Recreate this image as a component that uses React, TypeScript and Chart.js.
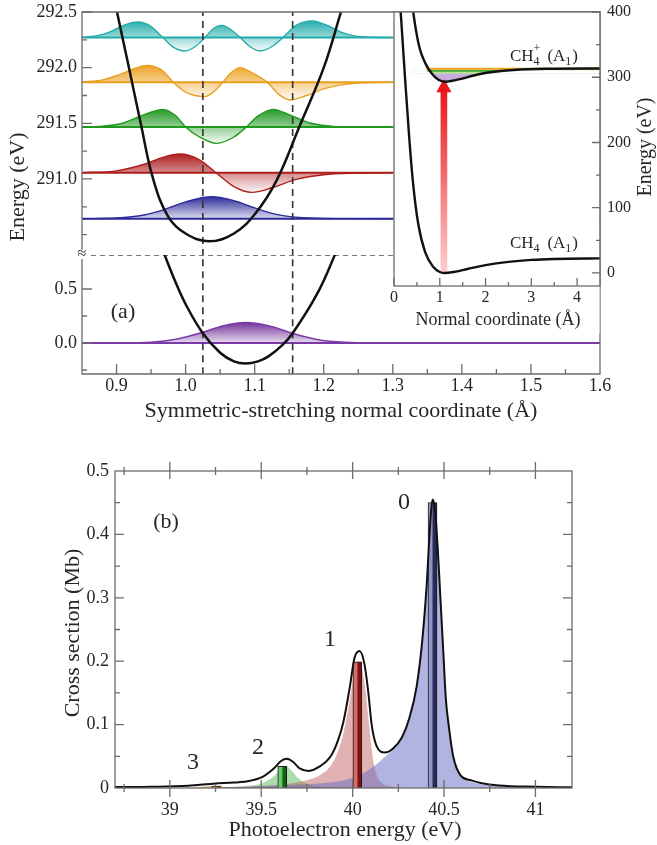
import React, { useEffect, useRef } from 'react';
import { Chart, registerables } from 'chart.js';

Chart.register(...registerables);

const FONT = '"Liberation Serif", "Times New Roman", serif';
const AXIS = '#6c6c6c';
const INK = '#262626';

// ================= Panel (a) : main plot =================
const upperParabolaX = [0.893, 0.9007, 0.918, 0.935, 0.953, 0.975, 1.0, 1.0345, 1.07, 1.101, 1.132, 1.166, 1.2, 1.225, 1.234];
const upperParabolaY = [292.75, 292.5, 292.0, 291.5, 291.0, 290.66, 290.51, 290.44, 290.51, 290.69, 290.99, 291.49, 292.0, 292.5, 292.68];
const lowerParabolaX = [0.96, 0.97, 0.985, 1.0, 1.025, 1.05, 1.07, 1.087, 1.105, 1.12, 1.14, 1.155, 1.19, 1.215, 1.23];
const lowerParabolaY = [0.98, 0.81, 0.57, 0.36, 0.09, -0.09, -0.17, -0.19, -0.17, -0.124, -0.02, 0.09, 0.45, 0.8, 1.05];

const v0X = [0.85, 0.9, 0.94, 0.97, 1.0, 1.038, 1.07, 1.1, 1.13, 1.17, 1.22, 1.3];
const v0Psi = [0.0003, 0.006, 0.033, 0.084, 0.151, 0.197, 0.163, 0.097, 0.041, 0.008, 0.0005, 0];
const v0Base = 290.643;

const v1X = [0.85, 0.9, 0.94, 0.965, 0.992, 1.02, 1.044, 1.07, 1.096, 1.125, 1.16, 1.2, 1.25, 1.3];
const v1Psi = [0.001, 0.017, 0.076, 0.134, 0.168, 0.116, 0, -0.124, -0.176, -0.135, -0.06, -0.018, -0.004, 0];
const v1Base = 291.056;

const v2X = [0.85, 0.88, 0.91, 0.94, 0.967, 0.985, 1.0, 1.02, 1.045, 1.07, 1.088, 1.105, 1.127, 1.15, 1.18, 1.21, 1.24, 1.3];
const v2Psi = [0.001, 0.007, 0.036, 0.11, 0.158, 0.105, 0, -0.09, -0.147, -0.09, 0, 0.1, 0.158, 0.11, 0.036, 0.008, 0.002, 0];
const v2Base = 291.467;

const v3X = [0.85, 0.88, 0.905, 0.925, 0.944, 0.965, 0.982, 1.0, 1.028, 1.042, 1.054, 1.065, 1.079, 1.097, 1.118, 1.135, 1.151, 1.175, 1.2, 1.23, 1.26, 1.3];
const v3Psi = [0.002, 0.02, 0.07, 0.12, 0.15, 0.11, 0, -0.09, -0.13, -0.08, 0, 0.08, 0.13, 0.08, 0, -0.11, -0.16, -0.12, -0.06, -0.02, -0.005, 0];
const v3Base = 291.87;

const v4X = [0.85, 0.87, 0.89, 0.91, 0.931, 0.95, 0.967, 0.982, 0.999, 1.014, 1.028, 1.04, 1.052, 1.065, 1.079, 1.093, 1.108, 1.125, 1.141, 1.16, 1.183, 1.205, 1.225, 1.245, 1.27, 1.3];
const v4Psi = [0.002, 0.015, 0.05, 0.11, 0.14, 0.1, 0, -0.085, -0.12, -0.08, 0, 0.08, 0.11, 0.075, 0, -0.08, -0.12, -0.08, 0, 0.11, 0.15, 0.11, 0.05, 0.015, 0.003, 0];
const v4Base = 292.27;

const g0X = [0.85, 0.9, 0.95, 0.99, 1.025, 1.055, 1.087, 1.12, 1.155, 1.19, 1.23, 1.28, 1.35];
const g0Psi = [0, 0.0006, 0.0085, 0.04, 0.1, 0.16, 0.19, 0.16, 0.089, 0.033, 0.0065, 0.0004, 0];
const g0Base = 0;

const dashX = [1.025, 1.155];
const breakValue = 0.81;

const aXTicks = [0.9, 1.0, 1.1, 1.2, 1.3, 1.4, 1.5, 1.6];
const aXLabels = ['0.9', '1.0', '1.1', '1.2', '1.3', '1.4', '1.5', '1.6'];
const aXMinor = [0.95, 1.05, 1.15, 1.25, 1.35, 1.45, 1.55];
const aUpperTicks = [291.0, 291.5, 292.0, 292.5];
const aUpperLabels = ['291.0', '291.5', '292.0', '292.5'];
const aUpperMinor = [290.5, 290.75, 291.25, 291.75, 292.25];
const aLowerTicks = [0.0, 0.5];
const aLowerLabels = ['0.0', '0.5'];
const aLowerMinor = [-0.25, 0.25];

// ================= Panel (a) : inset =================
const ch4X = [0.125, 0.146, 0.24, 0.335, 0.42, 0.53, 0.68, 0.86, 1.0, 1.1, 1.3, 1.6, 2.0, 2.5, 3.0, 3.5, 4.6];
const ch4Y = [425, 400, 300, 205, 135, 75, 32, 9, 1.5, 0, 1.5, 6, 12, 17, 20, 21.5, 22.5];
const ch4pX = [0.37, 0.42, 0.49, 0.57, 0.68, 0.82, 0.97, 1.1, 1.37, 1.88, 2.61, 3.33, 4.6];
const ch4pY = [428, 400, 368, 342, 322, 306, 296, 293, 296, 305, 311, 313, 313.5];
const levelOrangeX = [0.71, 4.6];
const levelOrangeY = [313, 313];
const levelGreenX = [0.73, 2.4];
const levelGreenY = [309.8, 309.8];
const arrowX = 1.09;
const arrowBodyTop = 279;
const arrowHeadY = 283.7;

const insetXTicks = [0, 1, 2, 3, 4];
const insetXLabels = ['0', '1', '2', '3', '4'];
const insetXMinor = [0.5, 1.5, 2.5, 3.5];
const insetYTicks = [0, 100, 200, 300, 400];
const insetYLabels = ['0', '100', '200', '300', '400'];
const insetYMinor = [50, 150, 250, 350];

// ================= Panel (b) =================
const totalX = [38.7, 38.9, 39.1, 39.25, 39.35, 39.44, 39.51, 39.57, 39.61, 39.64, 39.675, 39.71, 39.76, 39.82, 39.88, 39.92, 39.95, 39.985, 40.01, 40.038, 40.065, 40.086, 40.104, 40.13, 40.177, 40.22, 40.27, 40.31, 40.35, 40.38, 40.405, 40.425, 40.437, 40.45, 40.465, 40.48, 40.495, 40.51, 40.525, 40.55, 40.59, 40.65, 40.7, 40.8, 41.0, 41.2];
const totalY = [0.0015, 0.002, 0.0036, 0.0072, 0.0085, 0.0115, 0.018, 0.031, 0.043, 0.046, 0.041, 0.031, 0.027, 0.034, 0.05, 0.075, 0.105, 0.16, 0.205, 0.216, 0.195, 0.15, 0.1, 0.067, 0.056, 0.062, 0.08, 0.11, 0.16, 0.23, 0.32, 0.42, 0.455, 0.44, 0.38, 0.3, 0.22, 0.14, 0.1, 0.05, 0.02, 0.012, 0.008, 0.004, 0.002, 0.001];

const peak0X = [39.3, 39.6, 39.8, 39.95, 40.05, 40.12, 40.18, 40.22, 40.27, 40.31, 40.35, 40.38, 40.405, 40.425, 40.437, 40.45, 40.465, 40.48, 40.495, 40.51, 40.525, 40.55, 40.59, 40.65, 40.7, 40.8, 41.0, 41.2];
const peak0Y = [0.001, 0.004, 0.007, 0.012, 0.022, 0.035, 0.05, 0.06, 0.078, 0.108, 0.158, 0.228, 0.318, 0.418, 0.452, 0.438, 0.378, 0.298, 0.218, 0.138, 0.098, 0.048, 0.019, 0.01, 0.006, 0.003, 0.001, 0];
const peak1X = [39.3, 39.5, 39.6, 39.7, 39.76, 39.82, 39.88, 39.92, 39.95, 39.985, 40.01, 40.03, 40.05, 40.07, 40.086, 40.104, 40.12, 40.14, 40.17, 40.22, 40.3];
const peak1Y = [0.001, 0.003, 0.005, 0.009, 0.013, 0.02, 0.035, 0.058, 0.087, 0.14, 0.185, 0.2, 0.19, 0.155, 0.11, 0.062, 0.032, 0.015, 0.006, 0.002, 0];
const peak2X = [39.3, 39.45, 39.52, 39.57, 39.6, 39.625, 39.645, 39.67, 39.7, 39.74, 39.8, 39.9, 40.0];
const peak2Y = [0.001, 0.004, 0.009, 0.019, 0.028, 0.034, 0.033, 0.026, 0.016, 0.008, 0.003, 0.001, 0];
const peak3X = [39.05, 39.15, 39.22, 39.3, 39.4, 39.5];
const peak3Y = [0, 0.001, 0.003, 0.002, 0.001, 0];

const stickX = [40.437, 40.026, 39.615, 39.255];
const stickY = [0.45, 0.199, 0.034, 0.003];
const stickLight = ['#9094c6', '#d46c6c', '#70c870', '#e2b474'];
const stickDark = ['#2a2a5a', '#7a1212', '#136213', '#8a5a20'];

const bXTicks = [39, 39.5, 40, 40.5, 41];
const bXLabels = ['39', '39.5', '40', '40.5', '41'];
const bXMinor = [38.75, 39.25, 39.75, 40.25, 40.75];
const bYTicks = [0, 0.1, 0.2, 0.3, 0.4, 0.5];
const bYLabels = ['0', '0.1', '0.2', '0.3', '0.4', '0.5'];
const bYMinor = [0.05, 0.15, 0.25, 0.35, 0.45];

// ================= helpers =================
const xy = (xs: number[], ys: number[], dy = 0) => xs.map((x, i) => ({ x, y: ys[i] + dy }));

function ticks(ctx: any, scale: any, axis: 'x' | 'y', values: number[], at: number, a: number, b: number) {
  ctx.beginPath();
  values.forEach((v) => {
    const p = scale.getPixelForValue(v);
    if (axis === 'x') { ctx.moveTo(p, at - a); ctx.lineTo(p, at + b); }
    else { ctx.moveTo(at - a, p); ctx.lineTo(at + b, p); }
  });
  ctx.stroke();
}

function tickText(ctx: any, scale: any, axis: 'x' | 'y', values: number[], labels: string[], at: number, align: string, size: number) {
  ctx.font = `${size}px ${FONT}`;
  ctx.fillStyle = INK;
  ctx.textAlign = align;
  ctx.textBaseline = 'middle';
  values.forEach((v, i) => {
    const p = scale.getPixelForValue(v);
    if (axis === 'x') ctx.fillText(labels[i], p, at);
    else ctx.fillText(labels[i], at, p);
  });
}

function text(ctx: any, s: string, x: number, y: number, size: number, rot = 0, align = 'center') {
  ctx.save();
  ctx.font = `${size}px ${FONT}`;
  ctx.fillStyle = INK;
  ctx.textAlign = align;
  ctx.textBaseline = 'middle';
  ctx.translate(x, y);
  if (rot) ctx.rotate(rot);
  ctx.fillText(s, 0, 0);
  ctx.restore();
}

function chem(ctx: any, x: number, baseline: number, plus: boolean) {
  ctx.save();
  ctx.fillStyle = INK;
  ctx.textAlign = 'left';
  ctx.textBaseline = 'alphabetic';
  let cx = x;
  ctx.font = `17px ${FONT}`;
  ctx.fillText('CH', cx, baseline);
  cx += ctx.measureText('CH').width;
  ctx.font = `12px ${FONT}`;
  ctx.fillText('4', cx, baseline + 4);
  if (plus) ctx.fillText('+', cx, baseline - 9);
  cx += ctx.measureText('+').width + 7;
  ctx.font = `17px ${FONT}`;
  ctx.fillText('(A', cx, baseline);
  cx += ctx.measureText('(A').width;
  ctx.font = `12px ${FONT}`;
  ctx.fillText('1', cx, baseline + 4);
  cx += ctx.measureText('1').width + 1;
  ctx.font = `17px ${FONT}`;
  ctx.fillText(')', cx, baseline);
  ctx.restore();
}

function vertGrad(chart: any, vTop: number, vBot: number, rgb: string, a0: number, a1: number) {
  const { ctx, chartArea, scales } = chart;
  if (!chartArea) return `rgba(${rgb},0.5)`;
  const y1 = scales.y.getPixelForValue(vTop);
  let y2 = scales.y.getPixelForValue(vBot);
  if (Math.abs(y2 - y1) < 1) y2 = y1 + 1;
  const g = ctx.createLinearGradient(0, y1, 0, y2);
  g.addColorStop(0, `rgba(${rgb},${a0})`);
  g.addColorStop(1, `rgba(${rgb},${a1})`);
  return g;
}

function waveSets(xs: number[], psi: number[], base: number, line: string, rgb: string) {
  const top = base + Math.max(...psi);
  const neg = Math.min(...psi);
  const bot = base + (neg < 0 ? neg : 0);
  return [
    {
      data: xy(xs, psi, base), borderColor: line, borderWidth: 1.4,
      fill: { value: base },
      backgroundColor: (c: any) => vertGrad(c.chart, top, bot, rgb, 0.95, neg < 0 ? 0.03 : 0.16),
      order: 6,
    },
    { data: [{ x: 0.85, y: base }, { x: 1.6, y: base }], borderColor: line, borderWidth: 2, tension: 0, cubicInterpolationMode: 'default', order: 5 },
  ];
}

function straight(data: any[], color: string, width: number, dash: number[] = [], order = 1) {
  return { data, borderColor: color, borderWidth: width, borderDash: dash, tension: 0, cubicInterpolationMode: 'default', order };
}

function options(pad: any, xr: number[], yr: number[]) {
  return {
    responsive: false, maintainAspectRatio: false, animation: false, events: [], devicePixelRatio: 1,
    layout: { padding: pad },
    plugins: { legend: { display: false }, tooltip: { enabled: false } },
    scales: {
      x: { type: 'linear', display: false, min: xr[0], max: xr[1], offset: false, grid: { offset: false } },
      y: { type: 'linear', display: false, min: yr[0], max: yr[1], offset: false },
    },
    elements: { point: { radius: 0, hoverRadius: 0 }, line: { cubicInterpolationMode: 'monotone', borderCapStyle: 'butt' } },
  };
}

// ================= chart configs =================
const A1_TOP = 0, A1_H = 255;
const A2_TOP = 245, A2_H = 185;
const B_TOP = 0, B_H = 345;
const C_TOP = 440, C_H = 405;

function makeA1() {
  const datasets: any[] = [
    { data: xy(upperParabolaX, upperParabolaY), borderColor: '#111', borderWidth: 2.5, order: 0, tension: 0.4, cubicInterpolationMode: 'default' },
    ...dashX.map((x) => straight([{ x, y: 290.2 }, { x, y: 292.6 }], '#333', 1.6, [7, 5], 1)),
    ...waveSets(v0X, v0Psi, v0Base, '#2b2b9c', '35,35,150'),
    ...waveSets(v1X, v1Psi, v1Base, '#b01c1c', '170,22,22'),
    ...waveSets(v2X, v2Psi, v2Base, '#1f9a1f', '28,150,28'),
    ...waveSets(v3X, v3Psi, v3Base, '#e9a020', '236,158,28'),
    ...waveSets(v4X, v4Psi, v4Base, '#22abab', '26,168,168'),
  ];
  return {
    type: 'line',
    data: { datasets },
    options: options({ left: 82, right: 57, top: 12, bottom: 0 }, [0.85, 1.6], [290.317, 292.5]),
    plugins: [{
      id: 'decorA1',
      afterDraw(chart: any) {
        const c = chart.ctx; const { left, right, top, bottom } = chart.chartArea;
        c.save();
        c.strokeStyle = AXIS; c.lineWidth = 1.3;
        c.beginPath(); c.moveTo(left, bottom); c.lineTo(left, top); c.lineTo(right, top); c.lineTo(right, bottom); c.stroke();
        ticks(c, chart.scales.y, 'y', aUpperTicks, left, 0, 10);
        ticks(c, chart.scales.y, 'y', aUpperMinor, left, 0, 5);
        tickText(c, chart.scales.y, 'y', aUpperTicks, aUpperLabels, 77, 'right', 18);
        text(c, 'Energy (eV)', 18, 187 - A1_TOP, 22, -Math.PI / 2);
        c.restore();
      },
    }],
  };
}

function makeA2() {
  const datasets: any[] = [
    { data: xy(lowerParabolaX, lowerParabolaY), borderColor: '#111', borderWidth: 2.5, order: 0, tension: 0.4, cubicInterpolationMode: 'default' },
    ...dashX.map((x) => straight([{ x, y: -0.4 }, { x, y: 0.9 }], '#333', 1.6, [7, 5], 1)),
    straight([{ x: 0.85, y: breakValue }, { x: 1.6, y: breakValue }], '#777', 1.1, [5, 4], 2),
    ...waveSets(g0X, g0Psi, g0Base, '#7b3aa8', '108,40,150'),
  ];
  return {
    type: 'line',
    data: { datasets },
    options: options({ left: 82, right: 57, top: 10, bottom: 56 }, [0.85, 1.6], [-0.287, 0.815]),
    plugins: [{
      id: 'decorA2',
      afterDraw(chart: any) {
        const c = chart.ctx; const { left, right, top, bottom } = chart.chartArea;
        c.save();
        c.strokeStyle = AXIS; c.lineWidth = 1.3;
        c.beginPath(); c.moveTo(left, top); c.lineTo(left, bottom); c.lineTo(right, bottom); c.lineTo(right, top); c.stroke();
        ticks(c, chart.scales.y, 'y', aLowerTicks, left, 0, 10);
        ticks(c, chart.scales.y, 'y', aLowerMinor, left, 0, 5);
        ticks(c, chart.scales.x, 'x', aXTicks.slice(0, -1), bottom, 10, 0);
        ticks(c, chart.scales.x, 'x', aXMinor, bottom, 5, 0);
        tickText(c, chart.scales.y, 'y', aLowerTicks, aLowerLabels, 77, 'right', 18);
        tickText(c, chart.scales.x, 'x', aXTicks, aXLabels, 386 - A2_TOP, 'center', 18);
        text(c, 'Symmetric-stretching normal coordinate (Å)', 341, 411 - A2_TOP, 22);
        text(c, '(a)', 123, 312 - A2_TOP, 22);
        c.fillStyle = '#fff';
        c.fillRect(left - 5, top - 5, 10, 9);
        text(c, '≈', left, top - 1, 16);
        c.restore();
      },
    }],
  };
}

function makeB() {
  const fillCopy = (level: number, color: string, order: number) => ({
    data: xy(ch4pX, ch4pY), borderColor: 'rgba(0,0,0,0)', borderWidth: 0,
    fill: { target: { value: level }, above: 'rgba(0,0,0,0)', below: color }, order,
  });
  const datasets: any[] = [
    { data: xy(ch4X, ch4Y), borderColor: '#111', borderWidth: 2.4, order: 0 },
    { data: xy(ch4pX, ch4pY), borderColor: '#111', borderWidth: 2.4, order: 0 },
    {
      data: [{ x: arrowX, y: arrowHeadY }], showLine: false, pointStyle: 'triangle', pointRadius: 8,
      pointBackgroundColor: '#e8161b', pointBorderColor: '#e8161b', pointBorderWidth: 1, order: 1,
    },
    {
      type: 'bar', data: [{ x: arrowX, y: [0, arrowBodyTop] }], barThickness: 6, borderWidth: 0, order: 2,
      backgroundColor: (c: any) => {
        const ch = c.chart; if (!ch.chartArea) return '#e33';
        const y0 = ch.scales.y.getPixelForValue(0), y1 = ch.scales.y.getPixelForValue(arrowBodyTop);
        const g = ch.ctx.createLinearGradient(0, y0, 0, y1);
        g.addColorStop(0, 'rgba(255,205,205,1)');
        g.addColorStop(1, 'rgba(234,24,30,1)');
        return g;
      },
    },
    straight(xy(levelOrangeX, levelOrangeY), '#f0a21e', 2, [], 3),
    straight(xy(levelGreenX, levelGreenY), '#3aa83a', 1.6, [], 3),
    fillCopy(305.2, 'rgba(202,168,228,0.95)', 4),
    fillCopy(309.8, 'rgba(178,222,150,0.9)', 5),
    fillCopy(313, 'rgba(228,236,150,0.9)', 6),
  ];
  return {
    type: 'line',
    data: { datasets },
    options: options({ left: 394, right: 57, top: 12, bottom: 59 }, [0, 4.5], [-20, 400]),
    plugins: [{
      id: 'decorB',
      beforeDraw(chart: any) {
        const c = chart.ctx;
        c.save(); c.fillStyle = '#fff'; c.fillRect(393.5, 12, 206, 322); c.restore();
      },
      afterDraw(chart: any) {
        const c = chart.ctx; const { left, right, top, bottom } = chart.chartArea;
        c.save();
        c.strokeStyle = AXIS; c.lineWidth = 1.3;
        c.strokeRect(left, top, right - left, bottom - top);
        ticks(c, chart.scales.y, 'y', insetYTicks, right, 8, 0);
        ticks(c, chart.scales.y, 'y', insetYMinor, right, 4, 0);
        ticks(c, chart.scales.x, 'x', insetXTicks, bottom, 8, 0);
        ticks(c, chart.scales.x, 'x', insetXMinor, bottom, 4, 0);
        tickText(c, chart.scales.y, 'y', insetYTicks, insetYLabels, 607, 'left', 16);
        tickText(c, chart.scales.x, 'x', insetXTicks, insetXLabels, 298 - B_TOP, 'center', 16);
        text(c, 'Normal coordinate (Å)', 498, 320 - B_TOP, 18);
        text(c, 'Energy (eV)', 646, 147 - B_TOP, 20, -Math.PI / 2);
        chem(c, 510, 61 - B_TOP, true);
        chem(c, 510, 248 - B_TOP, false);
        c.restore();
      },
    }],
  };
}

function makeC() {
  const fillSet = (xs: number[], ys: number[], color: string, order: number) => ({
    data: xy(xs, ys), borderColor: 'rgba(0,0,0,0)', borderWidth: 0, fill: 'origin', backgroundColor: color, order,
  });
  const datasets: any[] = [
    { data: xy(totalX, totalY), borderColor: '#111', borderWidth: 2, order: 0 },
    {
      type: 'bar', data: xy(stickX, stickY), barThickness: 9, borderColor: '#1a1a1a', borderWidth: 1, order: 1,
      backgroundColor: (c: any) => {
        const ch = c.chart; const i = c.dataIndex;
        if (!ch.chartArea || i === undefined) return '#555';
        const px = ch.scales.x.getPixelForValue(stickX[i]);
        const g = ch.ctx.createLinearGradient(px - 4.5, 0, px + 4.5, 0);
        g.addColorStop(0, stickLight[i]); g.addColorStop(0.4, stickLight[i]);
        g.addColorStop(0.6, stickDark[i]); g.addColorStop(1, stickDark[i]);
        return g;
      },
    },
    fillSet(peak0X, peak0Y, 'rgba(100,106,196,0.5)', 2),
    fillSet(peak1X, peak1Y, 'rgba(186,72,72,0.42)', 3),
    fillSet(peak2X, peak2Y, 'rgba(72,176,72,0.45)', 4),
    fillSet(peak3X, peak3Y, 'rgba(210,140,40,0.6)', 5),
  ];
  return {
    type: 'line',
    data: { datasets },
    options: options({ left: 115, right: 85, top: 31, bottom: 57 }, [38.7, 41.2], [0, 0.5]),
    plugins: [{
      id: 'decorC',
      afterDraw(chart: any) {
        const c = chart.ctx; const { left, right, top, bottom } = chart.chartArea;
        const sx = chart.scales.x, sy = chart.scales.y;
        c.save();
        c.strokeStyle = AXIS; c.lineWidth = 1.3;
        c.strokeRect(left, top, right - left, bottom - top);
        ticks(c, sx, 'x', bXTicks, bottom, 8, 9);
        ticks(c, sx, 'x', bXMinor, bottom, 4, 4);
        ticks(c, sx, 'x', bXTicks, top, 9, 8);
        ticks(c, sx, 'x', bXMinor, top, 4, 4);
        ticks(c, sy, 'y', bYTicks.slice(1, -1), left, 0, 9);
        ticks(c, sy, 'y', bYMinor, left, 0, 5);
        ticks(c, sy, 'y', bYTicks.slice(1, -1), right, 9, 0);
        ticks(c, sy, 'y', bYMinor, right, 5, 0);
        tickText(c, sy, 'y', bYTicks, bYLabels, 109, 'right', 18);
        tickText(c, sx, 'x', bXTicks, bXLabels, 810 - C_TOP, 'center', 18);
        text(c, 'Cross section (Mb)', 73, 633 - C_TOP, 22, -Math.PI / 2);
        text(c, 'Photoelectron energy (eV)', 345, 830 - C_TOP, 22);
        text(c, '(b)', 166, 522 - C_TOP, 22);
        text(c, '0', 404, 503 - C_TOP, 24);
        text(c, '1', 330, 640 - C_TOP, 24);
        text(c, '2', 258, 748 - C_TOP, 24);
        text(c, '3', 193, 763 - C_TOP, 24);
        c.restore();
      },
    }],
  };
}

function Panel({ top, height, z, make }: { top: number; height: number; z: number; make: () => any }) {
  const ref = useRef<HTMLCanvasElement | null>(null);
  useEffect(() => {
    if (!ref.current) return;
    const chart = new Chart(ref.current, make());
    return () => chart.destroy();
  }, []);
  return (
    <canvas
      ref={ref}
      width={657}
      height={height}
      style={{ position: 'absolute', left: 0, top, width: 657, height, zIndex: z, display: 'block' }}
    />
  );
}

export default function App() {
  useEffect(() => {
    document.body.style.margin = '0';
    document.body.style.background = '#fff';
  }, []);
  return (
    <div style={{ position: 'fixed', left: 0, top: 0, width: 657, height: 845, background: '#fff', overflow: 'hidden' }}>
      <Panel top={A1_TOP} height={A1_H} z={1} make={makeA1} />
      <Panel top={A2_TOP} height={A2_H} z={2} make={makeA2} />
      <Panel top={B_TOP} height={B_H} z={3} make={makeB} />
      <Panel top={C_TOP} height={C_H} z={1} make={makeC} />
    </div>
  );
}
